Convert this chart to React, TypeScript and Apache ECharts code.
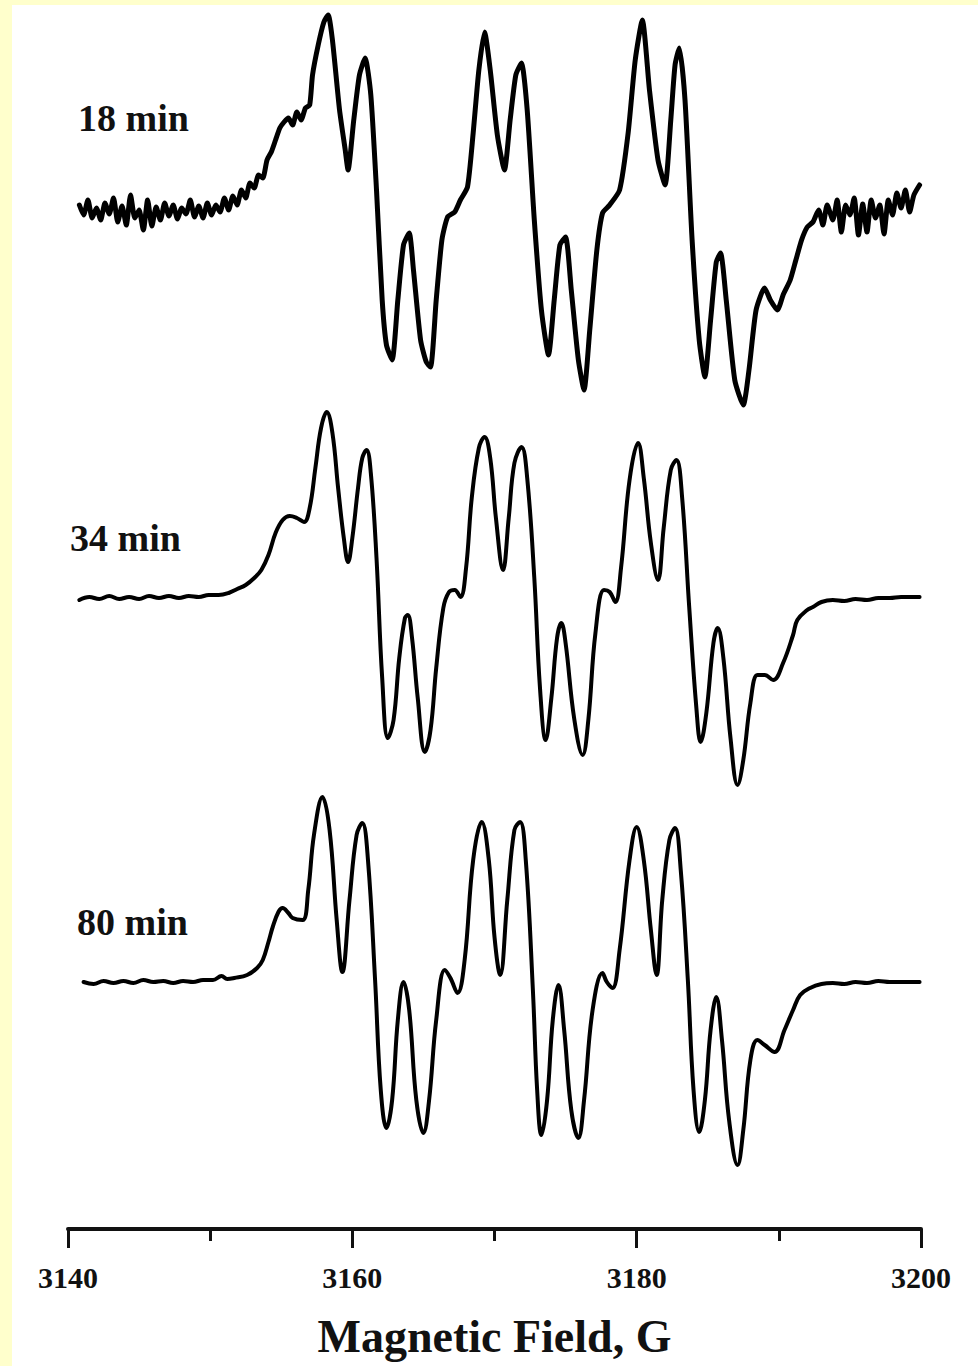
import React, { useEffect, useRef } from "react";
import * as echarts from "echarts";

// Magnetic field axis (G)
const fieldMin = 3140;
const fieldMax = 3200;
const fieldTickStep = 20;

// Trace labels
const traceLabels = ["18 min", "34 min", "80 min"];

// EPR first-derivative signal, arbitrary units relative to each baseline
const field18 = [
  3140.8, 3141.1, 3141.4, 3141.7, 3142.0, 3142.3, 3142.6, 3142.9, 3143.2, 3143.5,
  3143.8, 3144.1, 3144.4, 3144.7, 3145.0, 3145.3, 3145.6, 3145.9, 3146.2, 3146.5,
  3146.8, 3147.1, 3147.4, 3147.7, 3148.0, 3148.3, 3148.6, 3148.9, 3149.2, 3149.5,
  3149.8, 3150.1, 3150.4, 3150.7, 3151.0, 3151.3, 3151.6, 3151.9, 3152.2, 3152.5,
  3152.8, 3153.1, 3153.4, 3153.7, 3154.0, 3154.3, 3154.6, 3154.9, 3155.2, 3155.5,
  3155.8, 3156.1, 3156.4, 3156.7, 3157.0, 3157.2, 3157.6, 3158.0, 3158.3, 3158.6,
  3159.1, 3159.5, 3159.7, 3160.1, 3160.5, 3160.9, 3161.3, 3161.7, 3162.1, 3162.4,
  3162.8, 3163.2, 3163.6, 3164.0, 3164.3, 3164.8, 3165.2, 3165.5, 3165.9, 3166.3,
  3166.7, 3167.2, 3167.6, 3168.1, 3168.5, 3168.9, 3169.3, 3169.7, 3170.2, 3170.7,
  3171.1, 3171.5, 3171.9, 3172.3, 3172.8, 3173.3, 3173.8, 3174.2, 3174.6, 3175.0,
  3175.4, 3175.9, 3176.3, 3176.7, 3177.2, 3177.6, 3178.1, 3178.8, 3179.4, 3179.9,
  3180.4, 3180.9, 3181.5, 3182.0, 3182.4, 3182.7, 3183.0, 3183.4, 3183.9, 3184.4,
  3184.8, 3185.2, 3185.6, 3185.9, 3186.3, 3186.9, 3187.5, 3187.9, 3188.4, 3189.0,
  3189.4, 3189.9, 3190.3, 3190.8, 3191.2, 3191.6, 3192.0, 3192.4, 3192.8, 3193.1,
  3193.4, 3193.8, 3194.1, 3194.4, 3194.7, 3195.0, 3195.3, 3195.6, 3195.9, 3196.2,
  3196.5, 3196.8, 3197.1, 3197.4, 3197.7, 3198.0, 3198.3, 3198.6, 3198.9, 3199.2,
  3199.5, 3199.9,
];
const signal18 = [
  5, -5, 10, -8, 2, -10, 7, -4, 12, -12,
  4, -15, 15, -8, 0, -20, 10, -16, 3, -10,
  7, -6, 5, -9, 2, -4, 10, -7, 4, -8,
  7, -5, 5, -2, 12, 0, 14, 5, 20, 12,
  27, 22, 35, 32, 50, 58, 70, 82, 88, 92,
  85, 98, 90, 102, 105, 135, 165, 188, 195, 170,
  100, 60, 40, 90, 135, 152, 115, 20, -90, -135,
  -150, -90, -35, -23, -60, -130, -152, -157, -90, -30,
  -7, -2, 10, 23, 77, 140, 178, 140, 75, 40,
  90, 135, 147, 100, -10, -100, -145, -90, -35, -27,
  -80, -150, -180, -120, -40, -3, 5, 20, 77, 150,
  190, 120, 50, 25, 90, 145, 162, 110, -30, -130,
  -167, -110, -52, -43, -90, -170, -195, -160, -100, -78,
  -90, -100, -85, -70, -50, -30, -17, -12, 0, -15,
  5, -10, 10, -22, 5, -5, 12, -25, 6, -22,
  10, -8, 5, -24, 10, -5, 17, 2, 20, -2,
  15, 25,
];

const field34 = [
  3140.8, 3141.5, 3142.2, 3142.9, 3143.6, 3144.3, 3145.0, 3145.7, 3146.4, 3147.1,
  3147.8, 3148.5, 3149.2, 3149.9, 3150.6, 3151.3, 3151.9, 3152.5, 3153.1, 3153.6,
  3154.1, 3154.6, 3155.1, 3155.6, 3156.1, 3156.6, 3157.0, 3157.4, 3157.8, 3158.2,
  3158.6, 3159.0, 3159.4, 3159.7, 3160.0, 3160.4, 3160.7, 3161.0, 3161.3, 3161.7,
  3162.1, 3162.5, 3162.9, 3163.3, 3163.7, 3163.9, 3164.2, 3164.6, 3165.1, 3165.5,
  3165.9, 3166.4, 3166.8, 3167.2, 3167.6, 3168.0, 3168.4, 3168.9, 3169.3, 3169.7,
  3170.1, 3170.6, 3171.0, 3171.4, 3171.9, 3172.3, 3172.8, 3173.2, 3173.6, 3174.0,
  3174.4, 3174.7, 3175.0, 3175.6, 3176.2, 3176.6, 3177.1, 3177.7, 3178.1, 3178.5,
  3178.9, 3179.5, 3180.1, 3180.5, 3181.0, 3181.5, 3181.9, 3182.4, 3182.8, 3183.2,
  3183.7, 3184.2, 3184.5, 3184.9, 3185.4, 3185.7, 3186.1, 3186.6, 3187.1, 3187.5,
  3188.0, 3188.5, 3189.0, 3189.6, 3190.3, 3191.0, 3191.3, 3192.0, 3192.4, 3193.0,
  3193.8, 3194.6, 3195.4, 3196.2, 3197.0, 3197.8, 3198.6, 3199.4, 3199.9,
];
const signal34 = [
  -2, 1, -1, 2, -1, 1, -1, 2, 0, 2,
  0, 2, 1, 3, 3, 5, 9, 13, 20, 28,
  43, 65, 78, 82, 80, 76, 90, 130, 170, 186,
  165, 110, 60, 36, 60, 110, 140, 148, 125, 40,
  -80, -140, -122, -60, -20, -17, -40, -100, -154, -132,
  -70, -10, 6, 8, 1, 30, 100, 150, 161, 140,
  80, 28, 80, 135, 151, 120, 20, -90, -142, -100,
  -40, -25, -45, -120, -157, -122, -35, 8, 6, -4,
  30, 118, 155, 120, 55, 18, 70, 128, 138, 100,
  -10, -110, -144, -115, -45, -30, -60, -140, -187, -162,
  -105, -77, -77, -82, -65, -37, -22, -12, -9, -4,
  -2, -3, -1, -2, 0, 0, 1, 1, 1,
];

const field80 = [
  3141.1, 3141.8, 3142.5, 3143.2, 3143.9, 3144.6, 3145.3, 3146.0, 3146.7, 3147.4,
  3148.1, 3148.8, 3149.5, 3150.2, 3150.8, 3151.2, 3151.7, 3152.6, 3153.3, 3153.7,
  3154.1, 3154.4, 3154.8, 3155.1, 3155.5, 3155.8, 3156.5, 3156.9, 3157.3, 3157.9,
  3158.4, 3158.9, 3159.3, 3159.8, 3160.3, 3160.7, 3161.1, 3161.6, 3162.0, 3162.4,
  3162.8, 3163.2, 3163.6, 3164.0, 3164.5, 3165.0, 3165.4, 3165.9, 3166.5, 3166.9,
  3167.4, 3167.9, 3168.5, 3169.1, 3169.6, 3170.0, 3170.4, 3170.9, 3171.4, 3171.8,
  3172.2, 3172.7, 3173.0, 3173.3, 3173.7, 3174.1, 3174.5, 3174.9, 3175.4, 3175.9,
  3176.3, 3176.9, 3177.6, 3177.9, 3178.3, 3178.8, 3179.5, 3180.0, 3180.5, 3181.0,
  3181.4, 3181.8, 3182.3, 3182.7, 3183.1, 3183.6, 3184.0, 3184.4, 3184.8, 3185.2,
  3185.6, 3186.0, 3186.5, 3187.1, 3187.5, 3188.0, 3188.5, 3189.0, 3189.7, 3190.4,
  3191.0, 3191.5, 3192.2, 3193.0, 3193.8, 3194.6, 3195.4, 3196.2, 3197.0, 3197.8,
  3198.6, 3199.4, 3199.9,
];
const signal80 = [
  0, -2, 1, -1, 1, -1, 2, 0, 1, -1,
  1, 0, 2, 2, 6, 3, 4, 7, 14, 22,
  40, 55, 70, 74, 69, 64, 62, 92, 147, 185,
  152, 62, 10, 82, 147, 159, 122, 2, -108, -146,
  -118, -38, 0, -28, -118, -151, -118, -38, 12, 4,
  -11, 22, 122, 160, 122, 45, 7, 82, 152, 160,
  122, -8, -108, -153, -118, -38, -3, -48, -128, -156,
  -118, -28, 9, 0, -6, 32, 122, 155, 122, 52,
  7, 82, 142, 154, 112, 2, -108, -150, -118, -48,
  -15, -58, -138, -183, -148, -78, -58, -63, -70, -48,
  -28, -13, -6, -2, -1, -2, 0, -1, 1, 0,
  0, 0, 0,
];

const pair = (xs: number[], ys: number[]) => xs.map((x, i) => [x, ys[i]]);

export default function App() {
  const ref = useRef<HTMLDivElement>(null);
  useEffect(() => {
    if (!ref.current) return;
    const chart = echarts.init(ref.current, undefined, { renderer: "svg" });
    const serif = '"Liberation Serif", "Times New Roman", "DejaVu Serif", serif';
    const grids = [
      { left: 68, right: 57, top: 10, height: 400 },
      { left: 68, right: 57, top: 398, height: 400 },
      { left: 68, right: 57, top: 782, bottom: 137 },
    ];
    const hiddenX = (i: number) => ({
      type: "value",
      gridIndex: i,
      min: fieldMin,
      max: fieldMax,
      show: false,
    });
    const yAxes = [
      { type: "value", gridIndex: 0, min: -200, max: 200, show: false },
      { type: "value", gridIndex: 1, min: -200, max: 200, show: false },
      { type: "value", gridIndex: 2, min: -247, max: 200, show: false },
    ];
    const labelPos = [
      [78, 118],
      [70, 538],
      [77, 922],
    ];
    chart.setOption({
      animation: false,
      backgroundColor: "#FFFFCC",
      graphic: [
        {
          type: "rect",
          z: -100,
          shape: { x: 12, y: 5, width: 966, height: 1361 },
          style: { fill: "#FFFFFF" },
          silent: true,
        },
        ...traceLabels.map((t, i) => ({
          type: "text",
          x: labelPos[i][0],
          y: labelPos[i][1],
          z: 10,
          style: {
            text: t,
            fill: "#111111",
            fontFamily: serif,
            fontWeight: "bold",
            fontSize: 38,
            align: "left",
            verticalAlign: "middle",
          },
        })),
      ],
      grid: grids,
      xAxis: [
        hiddenX(0),
        hiddenX(1),
        {
          type: "value",
          gridIndex: 2,
          min: fieldMin,
          max: fieldMax,
          interval: fieldTickStep,
          name: "Magnetic Field, G",
          nameLocation: "middle",
          nameGap: 84,
          nameTextStyle: {
            fontFamily: serif,
            fontWeight: "bold",
            fontSize: 46,
            color: "#111111",
          },
          axisLine: { show: true, onZero: false, lineStyle: { color: "#111111", width: 4 } },
          axisTick: { show: true, length: 19, lineStyle: { color: "#111111", width: 3 } },
          minorTick: { show: true, splitNumber: 2, length: 12, lineStyle: { color: "#111111", width: 3 } },
          splitLine: { show: false },
          minorSplitLine: { show: false },
          axisLabel: {
            margin: 33,
            fontFamily: serif,
            fontWeight: "bold",
            fontSize: 30,
            color: "#111111",
            formatter: (v: number) => String(v),
          },
        },
      ],
      yAxis: yAxes,
      series: [
        {
          type: "line",
          xAxisIndex: 0,
          yAxisIndex: 0,
          data: pair(field18, signal18),
          showSymbol: false,
          symbol: "none",
          clip: false,
          smooth: 0.2,
          lineStyle: { color: "#000000", width: 5, join: "round", cap: "round" },
        },
        {
          type: "line",
          xAxisIndex: 1,
          yAxisIndex: 1,
          data: pair(field34, signal34),
          showSymbol: false,
          symbol: "none",
          clip: false,
          smooth: 0.4,
          lineStyle: { color: "#000000", width: 4, join: "round", cap: "round" },
        },
        {
          type: "line",
          xAxisIndex: 2,
          yAxisIndex: 2,
          data: pair(field80, signal80),
          showSymbol: false,
          symbol: "none",
          clip: false,
          smooth: 0.4,
          lineStyle: { color: "#000000", width: 4, join: "round", cap: "round" },
        },
      ],
    });
    return () => chart.dispose();
  }, []);
  return (
    <div
      ref={ref}
      style={{ position: "fixed", left: 0, top: 0, width: 978, height: 1366 }}
    />
  );
}
